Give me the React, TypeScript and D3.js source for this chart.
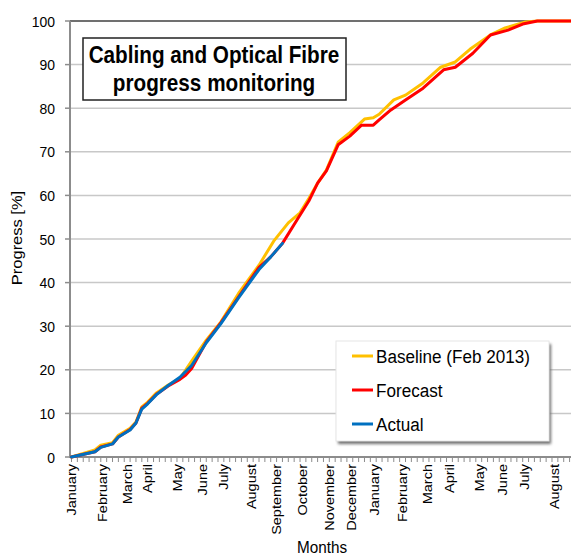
import React from "react";
import * as d3 from "d3";

const baselineWeeks = [0, 2, 4, 5, 7, 8, 10, 11, 12, 13, 14.5, 16.5, 18.5, 20.5, 23, 25.5, 28.5, 32, 34.5, 37, 39, 40.5, 42, 43.5, 45.5, 47.5, 50, 51.5, 52.5, 55, 57, 60, 63, 65.5, 68, 71.5, 74, 77.5, 79.5, 86];
const baselineValues = [0, 0.8, 1.6, 2.7, 3.3, 5, 6.6, 8, 11.5, 12.6, 14.7, 16.5, 18, 22, 26.8, 31, 37.5, 44, 49.5, 53.7, 56, 59.3, 62.8, 65.8, 72.2, 74.4, 77.5, 77.8, 78.6, 81.9, 83, 85.8, 89.4, 90.6, 93.5, 96.8, 98.4, 99.8, 100, 100];

const forecastWeeks = [0, 4, 5, 7, 8, 10, 11, 12, 13, 14.5, 16.5, 18.5, 19.5, 20.5, 23, 25.5, 28.5, 32, 34, 36, 38.5, 40.5, 42, 43.5, 45.5, 47.5, 49.5, 51.5, 52.5, 54.5, 57, 60, 63.5, 65.5, 68.5, 71.5, 74.5, 77, 79.5, 86];
const forecastValues = [0, 1.2, 2.3, 3, 4.6, 6.3, 7.8, 11.2, 12.3, 14.4, 16.3, 17.8, 18.8, 20.3, 26.4, 30.8, 36.7, 43.5, 45.9, 49, 54.4, 58.7, 62.8, 65.6, 71.6, 73.6, 76.1, 76.1, 77.3, 79.6, 81.9, 84.6, 88.8, 89.4, 92.6, 96.8, 97.9, 99.3, 100, 100];

const actualWeeks = [0, 4, 5, 7, 8, 10, 11, 12, 13, 14.5, 16.5, 18.5, 20.5, 23, 25.5, 28.5, 32, 34, 36];
const actualValues = [0, 1.2, 2.2, 3, 4.6, 6.2, 7.8, 11, 12.2, 14.3, 16.4, 18.3, 21, 26.2, 30.6, 36.5, 43, 45.9, 49];

const monthLabels = ["January", "February", "March", "April", "May", "June", "July", "August", "September", "October", "November", "December", "January", "February", "March", "April", "May", "June", "July", "August"];
const monthWeeks = [0, 5.2, 9.5, 13, 18, 22.4, 25.9, 30.7, 35, 39.4, 44, 47.8, 51.7, 56.5, 60.8, 64.5, 69.6, 73.5, 77.3, 82.4];

const yTicks = [0, 10, 20, 30, 40, 50, 60, 70, 80, 90, 100];
const weekTicks = d3.range(0, 86);

const seriesNames = ["Baseline (Feb 2013)", "Forecast", "Actual"];
const seriesColors = ["#FFC000", "#FF0000", "#0070C0"];

const FONT = "'Liberation Sans', Arial, sans-serif";
const SX = 0.9;

export default function App() {
  const x = d3.scaleLinear().domain([0, 85.5]).range([71.5, 572.5]);
  const y = d3.scaleLinear().domain([0, 100]).range([457, 21]);
  const line = d3
    .line<[number, number]>()
    .x((d) => x(d[0]))
    .y((d) => y(d[1]));

  const series = [
    baselineWeeks.map((w, i) => [w, baselineValues[i]] as [number, number]),
    forecastWeeks.map((w, i) => [w, forecastValues[i]] as [number, number]),
    actualWeeks.map((w, i) => [w, actualValues[i]] as [number, number]),
  ];

  const legendY = [356, 390, 424];

  return (
    <svg
      width={571}
      height={558}
      style={{ position: "absolute", left: 0, top: 0, background: "#fff" }}
      fontFamily={FONT}
    >
      <defs>
        <clipPath id="plot">
          <rect x={70} y={10} width={510} height={449} />
        </clipPath>
        <filter id="shadow" x="-10%" y="-10%" width="120%" height="130%">
          <feGaussianBlur stdDeviation={1.5} />
        </filter>
      </defs>
      <rect x={0} y={0} width={571} height={558} fill="#fff" />

      {/* gridlines */}
      {yTicks.filter((v) => v > 0 && v < 100).map((v) => (
        <line key={v} x1={70} x2={571} y1={y(v)} y2={y(v)} stroke="#c8c8c8" strokeWidth={1.5} />
      ))}
      <line x1={70} x2={571} y1={y(100)} y2={y(100)} stroke="#404040" strokeWidth={1.3} />

      {/* y axis */}
      <line x1={70} x2={70} y1={y(100)} y2={y(0)} stroke="#8c8c8c" strokeWidth={2} />
      {yTicks.map((v) => (
        <g key={v}>
          <line x1={65} x2={70} y1={y(v)} y2={y(v)} stroke="#8c8c8c" strokeWidth={1.5} />
          <g transform={`translate(55,${y(v) + 5.5}) scale(${SX},1)`}>
            <text textAnchor="end" fontSize={15.5} fill="#000">{v}</text>
          </g>
        </g>
      ))}

      {/* x axis */}
      <line x1={69} x2={571} y1={y(0)} y2={y(0)} stroke="#8c8c8c" strokeWidth={2} />
      {weekTicks.map((w) => (
        <line key={w} x1={x(w)} x2={x(w)} y1={457} y2={462} stroke="#8c8c8c" strokeWidth={1} />
      ))}
      {monthLabels.map((m, i) => (
        <g key={i} transform={`translate(${x(monthWeeks[i])},464) scale(${SX},1) rotate(-90)`}>
          <text textAnchor="end" dy="0.36em" fontSize={14.5} fill="#000">{m}</text>
        </g>
      ))}

      {/* lines */}
      <g clipPath="url(#plot)">
        {series.map((s, i) => (
          <path
            key={i}
            d={line(s) || ""}
            fill="none"
            stroke={seriesColors[i]}
            strokeWidth={3}
            strokeLinejoin="round"
            strokeLinecap="round"
          />
        ))}
      </g>

      {/* axis titles */}
      <g transform={`translate(17,238) scale(${SX},1) rotate(-90)`}>
        <text textAnchor="middle" dy="0.35em" fontSize={16.5} fill="#000">Progress [%]</text>
      </g>
      <g transform={`translate(322,553) scale(${SX},1)`}>
        <text textAnchor="middle" fontSize={17} fill="#000">Months</text>
      </g>

      {/* title box */}
      <rect x={83} y={38} width={263} height={62} fill="#fff" stroke="#222" strokeWidth={1.5} />
      <g transform={`translate(214,63) scale(${SX},1)`}>
        <text textAnchor="middle" fontSize={23} fontWeight="bold" fill="#000">Cabling and Optical Fibre</text>
      </g>
      <g transform={`translate(214,91) scale(${SX},1)`}>
        <text textAnchor="middle" fontSize={23} fontWeight="bold" fill="#000">progress monitoring</text>
      </g>

      {/* legend */}
      <rect x={338} y={344} width={213} height={100} fill="#6f6f6f" filter="url(#shadow)" />
      <rect x={336} y={341} width={213} height={100} fill="#fff" stroke="#e6e6e6" strokeWidth={1} />
      {seriesNames.map((n, i) => (
        <g key={n}>
          <line x1={352} x2={373} y1={legendY[i]} y2={legendY[i]} stroke={seriesColors[i]} strokeWidth={3} />
          <g transform={`translate(376,${legendY[i] + 7}) scale(${SX},1)`}>
            <text fontSize={19} fill="#000">{n}</text>
          </g>
        </g>
      ))}
    </svg>
  );
}
